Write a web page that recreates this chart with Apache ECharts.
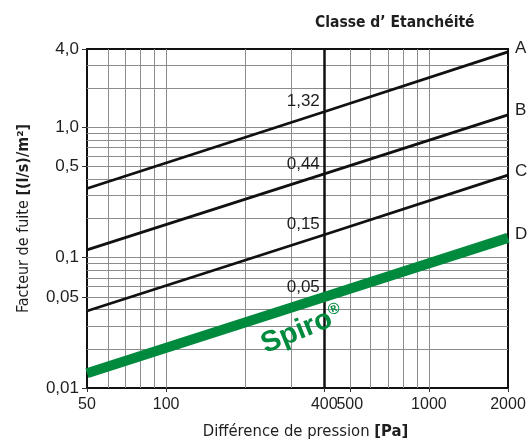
<!DOCTYPE html>
<html>
<head>
<meta charset="utf-8">
<script src="https://cdn.jsdelivr.net/npm/echarts@6/dist/echarts.min.js"></script>
<style>
  html, body { margin: 0; padding: 0; background: #fff; }
  #chart { width: 532px; height: 445px; }
</style>
</head>
<body>
<div id="chart"></div>
<script>
// pressure points (Pa) where the class lines were read
const pressures = [50, 400, 2000];
// leakage factor [(l/s)/m2] per class, read at 50 / 400 / 2000 Pa
const classA = [0.34, 1.32, 3.8];
const classB = [0.115, 0.44, 1.25];
const classC = [0.039, 0.15, 0.43];
const classD = [0.013, 0.05, 0.142];
const classNames = ['A', 'B', 'C', 'D'];
const refLabels = ['1,32', '0,44', '0,15', '0,05'];

const xTicks = [50, 100, 400, 500, 1000, 2000];
const yTicks = [0.01, 0.05, 0.1, 0.5, 1, 4];
const yTickLabels = ['0,01', '0,05', '0,1', '0,5', '1,0', '4,0'];
const xGrid = [60, 70, 80, 90, 100, 200, 300, 500, 600, 700, 800, 900, 1000];
const yGrid = [0.02, 0.03, 0.04, 0.05, 0.06, 0.07, 0.08, 0.09, 0.1,
  0.2, 0.3, 0.4, 0.5, 0.6, 0.7, 0.8, 0.9, 1, 2, 3];

const GREEN = '#008a3e';
const INK = '#1e1e1e';
const NARROW = "'Liberation Sans Narrow', 'DejaVu Sans Condensed', sans-serif";
const SANS = "'Liberation Sans', Arial, sans-serif";

const chart = echarts.init(document.getElementById('chart'));

function classSeries(idx, vals, color, width) {
  return {
    type: 'line',
    name: classNames[idx],
    z: 10,
    symbol: 'none',
    silent: true,
    lineStyle: { color: color, width: width, cap: 'butt' },
    data: pressures.map((p, i) => [p, vals[i]]),
    endLabel: {
      show: true,
      formatter: classNames[idx],
      color: INK,
      fontFamily: SANS,
      fontSize: 17,
      distance: 7,
      offset: [0, -4]
    },
    markPoint: {
      silent: true,
      symbol: 'circle',
      symbolSize: 1,
      itemStyle: { color: 'rgba(0,0,0,0)' },
      data: [{
        coord: [pressures[1], vals[1]],
        label: {
          show: true,
          formatter: refLabels[idx],
          position: 'left',
          distance: 4,
          offset: [0, -10],
          color: INK,
          fontFamily: SANS,
          fontSize: 17
        }
      }]
    }
  };
}

const seriesD = classSeries(3, classD, GREEN, 10);
seriesD.markPoint.data.push({
  coord: [330, 0.028],
  label: {
    show: true,
    position: 'inside',
    rotate: 22,
    formatter: '{s|Spiro}{r|®}',
    rich: {
      s: { color: GREEN, fontFamily: SANS, fontWeight: 'bold', fontSize: 29 },
      r: { color: GREEN, fontFamily: SANS, fontWeight: 'bold', fontSize: 16, padding: [0, 0, 14, 0] }
    }
  }
});

const option = {
  animation: false,
  title: {
    text: 'Classe d’ Etanchéité',
    left: 310,
    top: 10,
    textStyle: { fontFamily: NARROW, fontWeight: 'bold', fontSize: 15.5, color: INK }
  },
  grid: {
    left: 87, right: 24, top: 49, bottom: 55,
    show: true, borderColor: '#111', borderWidth: 2, backgroundColor: 'transparent'
  },
  xAxis: {
    type: 'log',
    logBase: 10,
    min: 50,
    max: 2000,
    name: 'Différence de pression {b|[Pa]}',
    nameLocation: 'middle',
    nameGap: 35,
    nameTextStyle: {
      fontFamily: NARROW, fontSize: 16.5, color: INK,
      padding: [0, 0, 0, 16],
      rich: { b: { fontFamily: NARROW, fontSize: 16.5, fontWeight: 'bold', color: INK } }
    },
    axisLine: { lineStyle: { color: '#111', width: 2 } },
    axisTick: { customValues: xTicks, length: 4, lineStyle: { color: '#333' } },
    axisLabel: {
      customValues: xTicks,
      margin: 9,
      color: INK,
      fontFamily: SANS,
      fontSize: 16,
      formatter: v => String(Math.round(v))
    },
    splitLine: { show: false },
    minorTick: { show: false },
    minorSplitLine: { show: false }
  },
  yAxis: {
    type: 'log',
    logBase: 10,
    min: 0.01,
    max: 4,
    name: 'Facteur de fuite {b|[(l/s)/m²]}',
    nameLocation: 'middle',
    nameGap: 55,
    nameTextStyle: {
      fontFamily: NARROW, fontSize: 16, color: INK,
      rich: { b: { fontFamily: NARROW, fontSize: 16, fontWeight: 'bold', color: INK } }
    },
    axisLine: { lineStyle: { color: '#111', width: 2 } },
    axisTick: { customValues: yTicks, length: 5, lineStyle: { color: '#333' } },
    axisLabel: {
      customValues: yTicks,
      margin: 8,
      color: INK,
      fontFamily: SANS,
      fontSize: 17,
      formatter: v => {
        const i = yTicks.findIndex(t => Math.abs(t - v) / t < 1e-6);
        return i >= 0 ? yTickLabels[i] : '';
      }
    },
    splitLine: { show: false },
    minorTick: { show: false },
    minorSplitLine: { show: false }
  },
  series: [
    {
      type: 'line',
      name: 'grid',
      z: 1,
      silent: true,
      symbol: 'none',
      data: [],
      markLine: {
        z: 1,
        silent: true,
        symbol: ['none', 'none'],
        label: { show: false },
        lineStyle: { type: 'solid', color: '#8c8c8c', width: 1 },
        data: xGrid.map(v => ({ xAxis: v }))
          .concat(yGrid.map(v => ({ yAxis: v })))
          .concat([{ xAxis: 400, lineStyle: { type: 'solid', color: '#111', width: 2.5 } }])
      }
    },
    classSeries(0, classA, '#111', 2.8),
    classSeries(1, classB, '#111', 2.8),
    classSeries(2, classC, '#111', 2.8),
    seriesD
  ]
};

chart.setOption(option);
</script>
</body>
</html>
